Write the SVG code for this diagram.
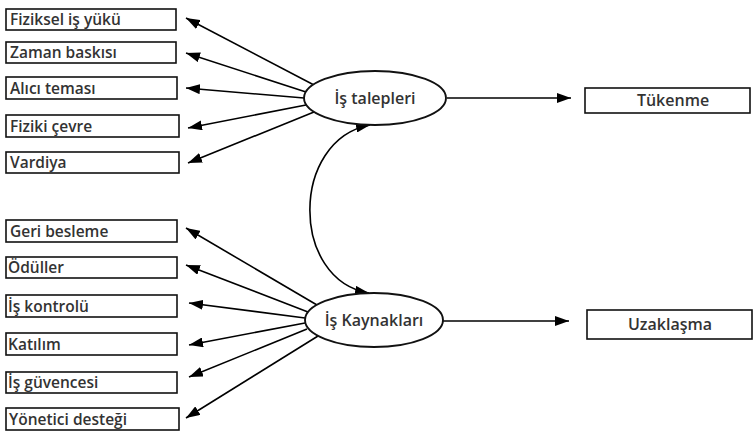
<svg xmlns="http://www.w3.org/2000/svg" width="755" height="431" viewBox="0 0 755 431">
<defs>
<marker id="ah" viewBox="0 0 14 10" refX="14" refY="5" markerWidth="14" markerHeight="10" markerUnits="userSpaceOnUse" orient="auto-start-reverse">
<path d="M0,0 L14,5 L0,10 Z" fill="#000"/>
</marker>
<style>
.box{fill:#fff;stroke:#111;stroke-width:1.6}
.ell{fill:#fff;stroke:#111;stroke-width:1.9}
.t{font-family:"Open Sans","DejaVu Sans",sans-serif;font-size:15.5px;font-weight:600;fill:#333}
.b{font-size:16px}
.c{stroke:#000;stroke-width:1.6;fill:none;marker-end:url(#ah)}
</style>
</defs>
<rect width="755" height="431" fill="#fff"/>
<g id="connectors">
<line class="c" x1="314" y1="85" x2="186" y2="18"/>
<line class="c" x1="306" y1="92" x2="186" y2="53"/>
<line class="c" x1="304" y1="98" x2="186" y2="88"/>
<line class="c" x1="306" y1="105" x2="188" y2="128"/>
<line class="c" x1="314" y1="112" x2="188" y2="163"/>
<line class="c" x1="447" y1="98" x2="571" y2="98"/>
<line class="c" x1="317" y1="305" x2="186" y2="228"/>
<line class="c" x1="308" y1="312" x2="186" y2="265"/>
<line class="c" x1="305" y1="318" x2="189" y2="303"/>
<line class="c" x1="305" y1="323" x2="189" y2="345"/>
<line class="c" x1="307" y1="329" x2="189" y2="377"/>
<line class="c" x1="318" y1="336" x2="186" y2="418"/>
<line class="c" x1="443" y1="321" x2="569" y2="321"/>
<path class="c" style="marker-start:url(#ah)" d="M 370 125 C 290 140, 290 280, 369 293"/>
</g>
<g id="n1"><rect class="box" x="6" y="9" width="170" height="21"/><text class="t" x="10" y="25">Fiziksel iş yükü</text></g>
<g id="n2"><rect class="box" x="6" y="42" width="170" height="21"/><text class="t" x="10" y="58">Zaman baskısı</text></g>
<g id="n3"><rect class="box" x="6" y="77" width="171" height="22"/><text class="t" x="10" y="93.5">Alıcı teması</text></g>
<g id="n4"><rect class="box" x="6" y="115" width="173" height="22"/><text class="t" x="10" y="131.5">Fiziki çevre</text></g>
<g id="n5"><rect class="box" x="6" y="152" width="173" height="21"/><text class="t" x="10" y="168">Vardiya</text></g>
<g id="n6"><rect class="box" x="6" y="220" width="171" height="22"/><text class="t" x="10" y="236.5">Geri besleme</text></g>
<g id="n7"><rect class="box" x="6" y="257" width="171" height="21"/><text class="t" x="8" y="273">Ödüller</text></g>
<g id="n8"><rect class="box" x="6" y="295" width="171" height="22"/><text class="t" x="8" y="311.5">İş kontrolü</text></g>
<g id="n9"><rect class="box" x="6" y="333" width="171" height="22"/><text class="t" x="8" y="349.5">Katılım</text></g>
<g id="n10"><rect class="box" x="6" y="372" width="171" height="21"/><text class="t" x="8" y="388">İş güvencesi</text></g>
<g id="n11"><rect class="box" x="6" y="408" width="173" height="22"/><text class="t" x="9" y="424.5">Yönetici desteği</text></g>
<g id="e1"><ellipse class="ell" cx="375" cy="98" rx="71" ry="27"/><text class="t b" x="375" y="104" text-anchor="middle">İş talepleri</text></g>
<g id="e2"><ellipse class="ell" cx="374" cy="320" rx="69" ry="27"/><text class="t b" x="374" y="326" text-anchor="middle">İş Kaynakları</text></g>
<g id="n12"><rect class="box" x="585" y="88" width="165" height="25"/><text class="t b" x="673" y="106" text-anchor="middle">Tükenme</text></g>
<g id="n13"><rect class="box" x="587" y="310" width="165" height="29"/><text class="t b" x="670" y="330" text-anchor="middle">Uzaklaşma</text></g>
</svg>
